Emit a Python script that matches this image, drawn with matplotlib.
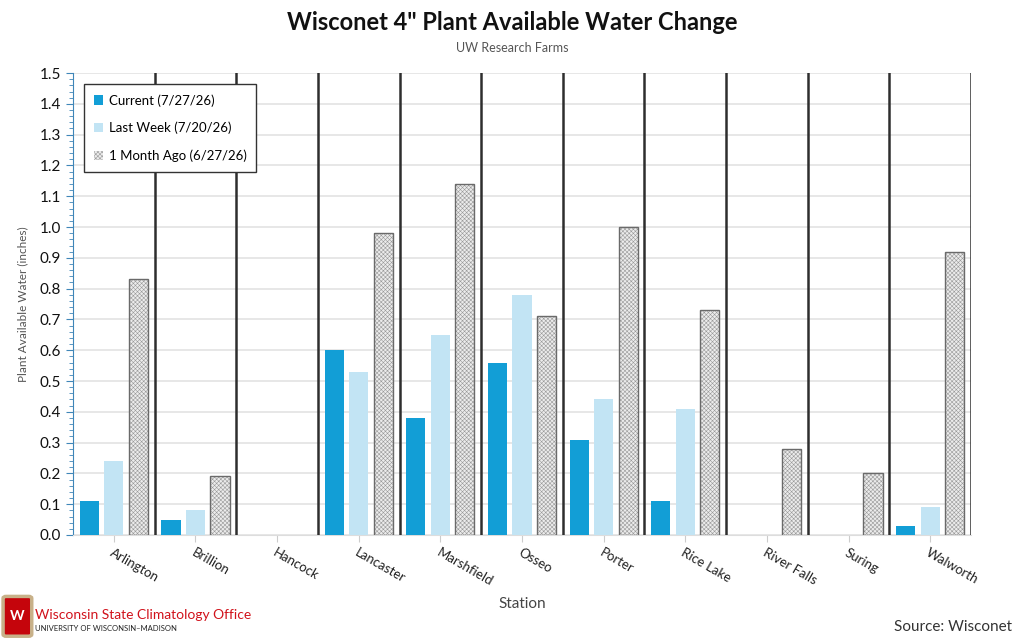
import numpy as np
import matplotlib.pyplot as plt
from matplotlib.patches import FancyBboxPatch
from matplotlib.ticker import MultipleLocator, FormatStrFormatter

plt.rcParams["font.family"] = ["Lato", "DejaVu Sans"]
plt.rcParams["hatch.linewidth"] = 0.4

stations = ["Arlington", "Brillion", "Hancock", "Lancaster", "Marshfield", "Osseo",
            "Porter", "Rice Lake", "River Falls", "Suring", "Walworth"]
current = [0.11, 0.05, np.nan, 0.60, 0.38, 0.56, 0.31, 0.11, np.nan, np.nan, 0.03]
last_week = [0.24, 0.08, np.nan, 0.53, 0.65, 0.78, 0.44, 0.41, np.nan, np.nan, 0.09]
month_ago = [0.83, 0.19, np.nan, 0.98, 1.14, 0.71, 1.00, 0.73, 0.28, 0.20, 0.92]

labels = ["Current (7/27/26)", "Last Week (7/20/26)", "1 Month Ago (6/27/26)"]
c_cur = "#129ed6"
c_last = "#c2e4f4"

fig = plt.figure(figsize=(10.24, 6.42), dpi=100)
ax = fig.add_axes([0.0713, 0.1667, 0.877, 0.7195])

x = np.arange(len(stations))
w = 0.235
step = 0.3
ax.bar(x - step, current, w, color=c_cur, label=labels[0], zorder=3)
ax.bar(x, last_week, w, color=c_last, label=labels[1], zorder=3)
# hatched fill in lighter grey, then a darker outline on top
ax.bar(x + step, month_ago, w, facecolor="#ececec", edgecolor="#9a9a9a",
       hatch="xxxxxxxx", linewidth=0, label=labels[2], zorder=3)
ax.bar(x + step, month_ago, w, facecolor="none", edgecolor="#6a6a6a",
       linewidth=1.0, zorder=3)

# separators between stations
for b in x + 0.5:
    ax.axvline(b, color="#2e2e2e", lw=1.8, zorder=4)

ax.set_xlim(-0.5, len(stations) - 0.5)
ax.set_ylim(0, 1.5)
ax.yaxis.set_major_locator(MultipleLocator(0.1))
ax.yaxis.set_minor_locator(MultipleLocator(0.02))
ax.yaxis.set_major_formatter(FormatStrFormatter("%.1f"))
ax.grid(axis="y", color="#e3e3e3", lw=1.2, zorder=0)
ax.set_axisbelow(True)

for s in ["top", "right"]:
    ax.spines[s].set_visible(False)
ax.spines["left"].set_color("#3f86b8")
ax.spines["bottom"].set_color("#dddddd")
ax.tick_params(axis="y", which="both", colors="#3f86b8", labelcolor="#111111",
               labelsize=11)
ax.tick_params(axis="y", which="major", length=5)
ax.tick_params(axis="y", which="minor", length=3)
ax.tick_params(axis="x", length=5, color="#cccccc", labelsize=9.5, labelcolor="#222222")

ax.set_xticks(x)
ax.set_xticklabels(stations, rotation=-30, ha="left", va="top", rotation_mode="anchor")

ax.set_ylabel("Plant Available Water (inches)", fontsize=8.5, color="#555555", labelpad=8)
ax.set_xlabel("Station", fontsize=11, color="#444444", labelpad=6)

leg = ax.legend(loc="upper left", bbox_to_anchor=(0.005, 0.99), fontsize=9.5,
                frameon=True, fancybox=False, edgecolor="#333333", framealpha=1,
                handlelength=0.7, handleheight=0.7, handletextpad=0.4,
                labelspacing=1.15, borderpad=0.75)
leg.get_frame().set_linewidth(1.0)

fig.text(0.5, 0.965, 'Wisconet 4" Plant Available Water Change', ha="center",
         va="center", fontsize=17, fontweight="bold", color="#111111")
fig.text(0.5, 0.925, "UW Research Farms", ha="center", va="center",
         fontsize=9, color="#555555")
fig.text(0.988, 0.023, "Source: Wisconet", ha="right", va="center",
         fontsize=11, color="#333333")

# logo
shield = FancyBboxPatch((0.006, 0.012), 0.022, 0.056, boxstyle="round,pad=0.003",
                        transform=fig.transFigure, facecolor="#c5050c",
                        edgecolor="#c8b189", lw=2.5)
fig.add_artist(shield)
fig.text(0.017, 0.040, "W", ha="center", va="center", fontsize=10,
         fontweight="bold", color="white")
fig.text(0.034, 0.042, "Wisconsin State Climatology Office", ha="left", va="center",
         fontsize=10, color="#d1121b")
fig.text(0.034, 0.021, "UNIVERSITY OF WISCONSIN\u2013MADISON", ha="left", va="center",
         fontsize=5.5, color="#222222")

fig.savefig("out.png", dpi=100)
